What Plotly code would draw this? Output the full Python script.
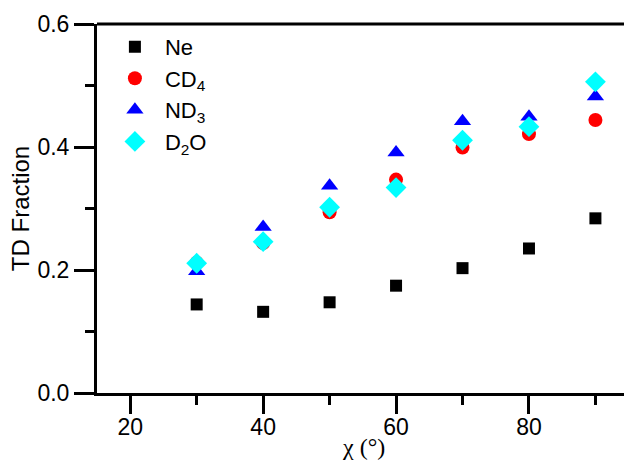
import plotly.graph_objects as go

chi = [30, 40, 50, 60, 70, 80, 90]
ne = [0.144, 0.132, 0.1475, 0.1745, 0.203, 0.235, 0.284]
cd4 = [0.212, 0.244, 0.294, 0.347, 0.399, 0.421, 0.444]
nd3 = [0.198, 0.270, 0.337, 0.391, 0.442, 0.449, 0.482]
d2o = [0.211, 0.246, 0.302, 0.334, 0.411, 0.433, 0.506]

series = [
    ("Ne", ne, "square", "black", 12),
    ("CD<sub>4</sub>", cd4, "circle", "red", 14),
    ("ND<sub>3</sub>", nd3, "triangle-up", "blue", 15),
    ("D<sub>2</sub>O", d2o, "diamond", "cyan", 16),
]

fig = go.Figure()
for i, (name, ys, sym, col, sz) in enumerate(series):
    fig.add_trace(go.Scatter(x=chi, y=ys, mode="markers", name=name,
                             legendgroup=str(i),
                             marker=dict(symbol=sym, color=col, size=sz, line=dict(width=0))))

axis_font = dict(family="Liberation Sans, Arial", size=23, color="black")
fig.update_layout(
    width=624, height=461,
    margin=dict(l=97, r=0, t=24, b=68),
    paper_bgcolor="white", plot_bgcolor="white",
    font=axis_font,
    showlegend=True,
    legend=dict(x=0.015, y=0.995, xanchor="left", yanchor="top",
                font=dict(family="Liberation Sans, Arial", size=22, color="black"),
                bgcolor="rgba(0,0,0,0)", tracegroupgap=0, itemwidth=50),
    xaxis=dict(range=[15, 94.3], tickvals=[20, 40, 60, 80], ticks="outside",
               ticklen=18, tickwidth=3, tickcolor="black",
               showline=True, linewidth=3, linecolor="black", mirror=False,
               showgrid=False, zeroline=False, tickfont=axis_font,
               ticklabelstandoff=-7,
               minor=dict(tickvals=[30, 50, 70, 90], ticks="outside", ticklen=9,
                          tickwidth=3, tickcolor="black", showgrid=False)),
    yaxis=dict(range=[0, 0.6], tickvals=[0, 0.2, 0.4, 0.6], tickformat=".1f", ticks="outside",
               ticklen=20, tickwidth=3, tickcolor="black",
               showline=True, linewidth=3, linecolor="black",
               showgrid=False, zeroline=False, tickfont=axis_font,
               minor=dict(tickvals=[0.1, 0.3, 0.5], ticks="outside", ticklen=9,
                          tickwidth=3, tickcolor="black", showgrid=False),
               title=dict(text="TD Fraction", standoff=2,
                          font=dict(family="Liberation Sans, Arial", size=24, color="black"))),
)
# x-axis title
fig.add_annotation(text="χ (°)", xref="paper", yref="paper", x=0.505, y=-0.146,
                   xanchor="center", yanchor="middle", showarrow=False,
                   font=dict(family="Liberation Serif, Times New Roman", size=24, color="black"))
# top border line
fig.add_shape(type="line", xref="paper", yref="paper", x0=0, x1=1, y0=1, y1=1,
              line=dict(color="black", width=3))

fig.write_html("out.html")
